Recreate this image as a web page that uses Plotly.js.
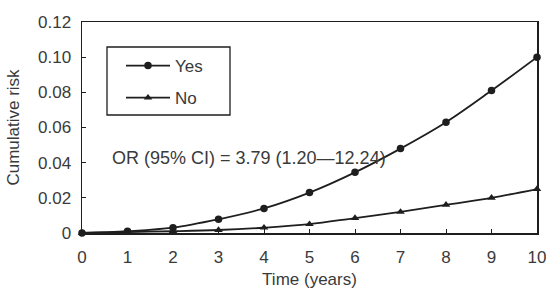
<!DOCTYPE html>
<html>
<head>
<meta charset="utf-8">
<script src="https://cdn.plot.ly/plotly-3.0.1.min.js"></script>
<style>html,body{margin:0;padding:0;background:#fff}#chart{width:546px;height:289px}</style>
</head>
<body>
<div id="chart"></div>
<script>
const years = [0,1,2,3,4,5,6,7,8,9,10];
const yesRisk = [0,0.001,0.003,0.0078,0.014,0.023,0.0345,0.048,0.063,0.081,0.100];
const noRisk = [0,0.0005,0.001,0.0017,0.003,0.005,0.0085,0.012,0.016,0.020,0.025];
const yTickVals = [0,0.02,0.04,0.06,0.08,0.10,0.12];
const yTickText = ['0','0.02','0.04','0.06','0.08','0.10','0.12'];
const xTickVals = [0,1,2,3,4,5,6,7,8,9,10];
const annotationText = 'OR (95% CI) = 3.79 (1.20\u201412.24)';

const fam = 'Liberation Sans, Arial, sans-serif';
const txt = '#3a3a3a';
const ink = '#1e1e1e';

const traces = [
  {x:years, y:yesRisk, name:'Yes', legendgroup:'a', mode:'lines+markers', line:{color:ink, width:1.8, shape:'spline'},
   marker:{symbol:'circle', size:7.5, color:ink}, cliponaxis:false},
  {x:years, y:noRisk, name:'No', legendgroup:'b', mode:'lines+markers', line:{color:ink, width:1.8, shape:'spline'},
   marker:{symbol:'triangle-up', size:7.5, color:ink}, cliponaxis:false}
];

const layout = {
  width:546, height:289,
  margin:{l:82, r:9, t:22, b:56},
  paper_bgcolor:'#fff', plot_bgcolor:'#fff',
  font:{family:fam, color:txt, size:17},
  showlegend:true,
  legend:{x:(121-82)/455, y:(233-48)/211, xanchor:'left', yanchor:'top', borderwidth:0,
          bgcolor:'rgba(0,0,0,0)', font:{family:fam, size:17, color:txt}, tracegroupgap:7,
          itemwidth:44},
  shapes:[{type:'rect', xref:'paper', yref:'paper',
           x0:(107-82)/455, x1:(230-82)/455, y0:(233-115)/211, y1:(233-47)/211,
           line:{color:ink, width:1.3}, fillcolor:'rgba(0,0,0,0)'}],
  xaxis:{range:[0,10], tickvals:xTickVals, ticks:'inside', ticklen:4, tickcolor:ink,
         showline:true, linecolor:ink, linewidth:1.5, mirror:true, showgrid:false, zeroline:false,
         ticklabelstandoff:8, ticklabeloverflow:'allow', automargin:false,
         title:{text:'Time (years)', font:{size:17, color:txt}, standoff:17},
         tickfont:{size:17, color:txt}},
  yaxis:{range:[0,0.12], tickvals:yTickVals, ticktext:yTickText, ticks:'inside', ticklen:4, tickcolor:ink,
         showline:true, linecolor:ink, linewidth:1.5, mirror:true, showgrid:false, zeroline:false,
         ticklabelstandoff:6, ticklabeloverflow:'allow', automargin:false,
         title:{text:'Cumulative risk', font:{size:17, color:txt}, standoff:14},
         tickfont:{size:17, color:txt}},
  annotations:[{x:(110-82)/455, y:(233-158)/211*0.12, xref:'paper', yref:'y', xanchor:'left', yanchor:'middle',
                text:annotationText, showarrow:false, font:{size:18, color:txt}}]
};

Plotly.newPlot('chart', traces, layout, {staticPlot:true});
</script>
</body>
</html>
